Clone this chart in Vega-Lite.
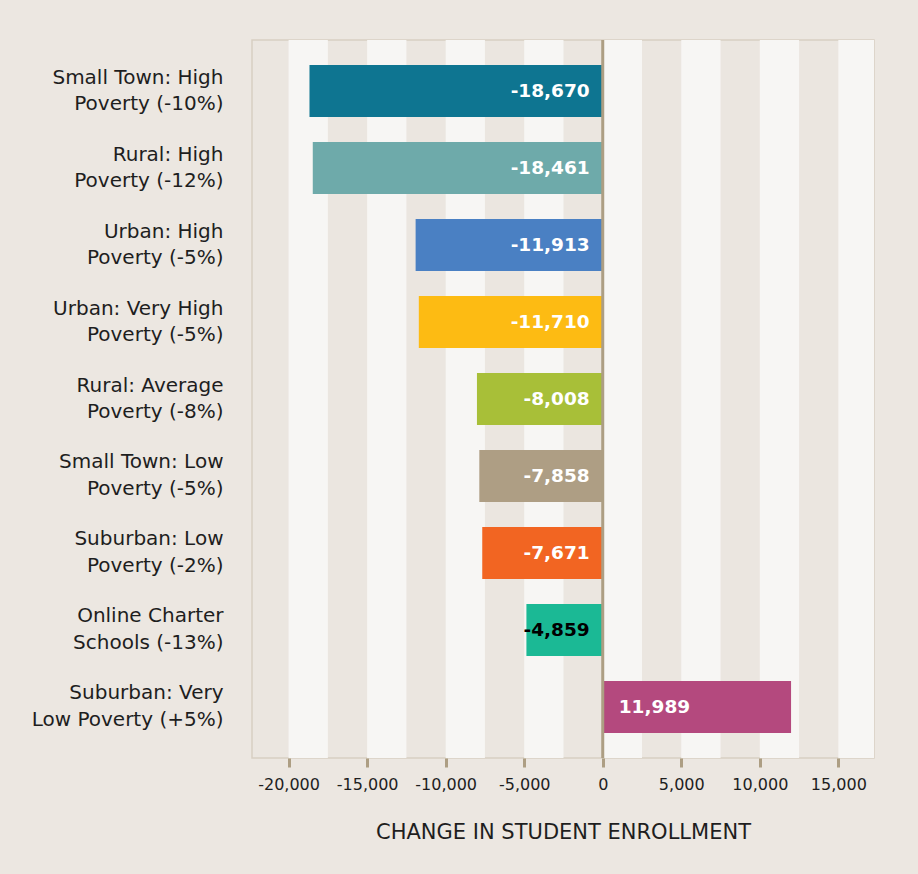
{
  "$schema": "https://vega.github.io/schema/vega-lite/v6.json",
  "width": 622,
  "height": 718,
  "autosize": {"type": "none"},
  "padding": {"left": 252, "top": 40, "right": 44, "bottom": 116},
  "background": "#ece7e1",
  "config": {
    "font": "DejaVu Sans",
    "locale": {"number": {"decimal": ".", "thousands": ",", "grouping": [3], "currency": ["$", ""], "minus": "-"}},
    "view": {"fill": "#ebe6e0", "stroke": "#d8cfc2", "strokeWidth": 1.5}
  },
  "datasets": {
    "enrollment": [
      {"group": "Small Town: High|Poverty (-10%)", "value": -18670, "order": 1},
      {"group": "Rural: High|Poverty (-12%)", "value": -18461, "order": 2},
      {"group": "Urban: High|Poverty (-5%)", "value": -11913, "order": 3},
      {"group": "Urban: Very High|Poverty (-5%)", "value": -11710, "order": 4},
      {"group": "Rural: Average|Poverty (-8%)", "value": -8008, "order": 5},
      {"group": "Small Town: Low|Poverty (-5%)", "value": -7858, "order": 6},
      {"group": "Suburban: Low|Poverty (-2%)", "value": -7671, "order": 7},
      {"group": "Online Charter|Schools (-13%)", "value": -4859, "order": 8},
      {"group": "Suburban: Very|Low Poverty (+5%)", "value": 11989, "order": 9}
    ],
    "stripes": [
      {"start": -20000, "end": -17500},
      {"start": -15000, "end": -12500},
      {"start": -10000, "end": -7500},
      {"start": -5000, "end": -2500},
      {"start": 0, "end": 2500},
      {"start": 5000, "end": 7500},
      {"start": 10000, "end": 12500},
      {"start": 15000, "end": 17270}
    ],
    "zero": [{"x": 0}]
  },
  "layer": [
    {
      "data": {"name": "stripes"},
      "mark": {"type": "rect", "color": "#f7f6f4", "clip": true},
      "encoding": {
        "x": {"field": "start", "type": "quantitative", "scale": {"domain": [-22330, 17270], "nice": false, "zero": false}},
        "x2": {"field": "end"}
      }
    },
    {
      "data": {"name": "enrollment"},
      "mark": {"type": "bar"},
      "encoding": {
        "y": {
          "field": "group", "type": "nominal",
          "sort": {"field": "order", "order": "ascending"},
          "scale": {"paddingInner": 0.325, "paddingOuter": 0.325},
          "axis": {
            "title": null, "domain": false, "ticks": false,
            "labelExpr": "split(datum.label, '|')",
            "labelFontSize": 20, "labelLineHeight": 26.5, "labelColor": "#1e1e1e",
            "labelPadding": 29, "labelAlign": "right", "labelBaseline": "middle", "labelLimit": 300,
            "labelOffset": -13.5
          }
        },
        "x": {
          "field": "value", "type": "quantitative",
          "scale": {"domain": [-22330, 17270], "nice": false, "zero": false},
          "axis": {
            "title": "CHANGE IN STUDENT ENROLLMENT",
            "titleFontSize": 21, "titleFontWeight": "normal", "titleColor": "#1e1e1e", "titlePadding": 29,
            "values": [-20000, -15000, -10000, -5000, 0, 5000, 10000, 15000],
            "format": ",d", "grid": false, "domain": false,
            "tickColor": "#ad9e83", "tickWidth": 3, "tickSize": 9,
            "labelFontSize": 16, "labelColor": "#1e1e1e", "labelPadding": 9
          }
        },
        "x2": {"datum": 0},
        "color": {
          "field": "group", "type": "nominal", "legend": null,
          "sort": {"field": "order", "order": "ascending"},
          "scale": {"range": ["#0e7591", "#6eaaaa", "#4a80c3", "#fdbb13", "#a8bf38", "#ae9e84", "#f26522", "#1bb995", "#b4497e"]}
        }
      }
    },
    {
      "data": {"name": "zero"},
      "mark": {"type": "rule", "color": "#ad9e83", "strokeWidth": 3},
      "encoding": {"x": {"field": "x", "type": "quantitative"}}
    },
    {
      "data": {"name": "enrollment"},
      "transform": [{"filter": "datum.value < 0"}],
      "mark": {"type": "text", "align": "right", "baseline": "middle", "dx": -13, "fontSize": 18.5, "fontWeight": "bold"},
      "encoding": {
        "y": {"field": "group", "type": "nominal", "sort": {"field": "order", "order": "ascending"}},
        "x": {"datum": 0, "type": "quantitative"},
        "text": {"field": "value", "type": "quantitative", "format": ",d"},
        "color": {"condition": {"test": "datum.value > -6000", "value": "#000000"}, "value": "#ffffff"}
      }
    },
    {
      "data": {"name": "enrollment"},
      "transform": [{"filter": "datum.value > 0"}],
      "mark": {"type": "text", "align": "left", "baseline": "middle", "dx": 16, "fontSize": 18.5, "fontWeight": "bold", "color": "#ffffff"},
      "encoding": {
        "y": {"field": "group", "type": "nominal", "sort": {"field": "order", "order": "ascending"}},
        "x": {"datum": 0, "type": "quantitative"},
        "text": {"field": "value", "type": "quantitative", "format": ",d"}
      }
    }
  ]
}
